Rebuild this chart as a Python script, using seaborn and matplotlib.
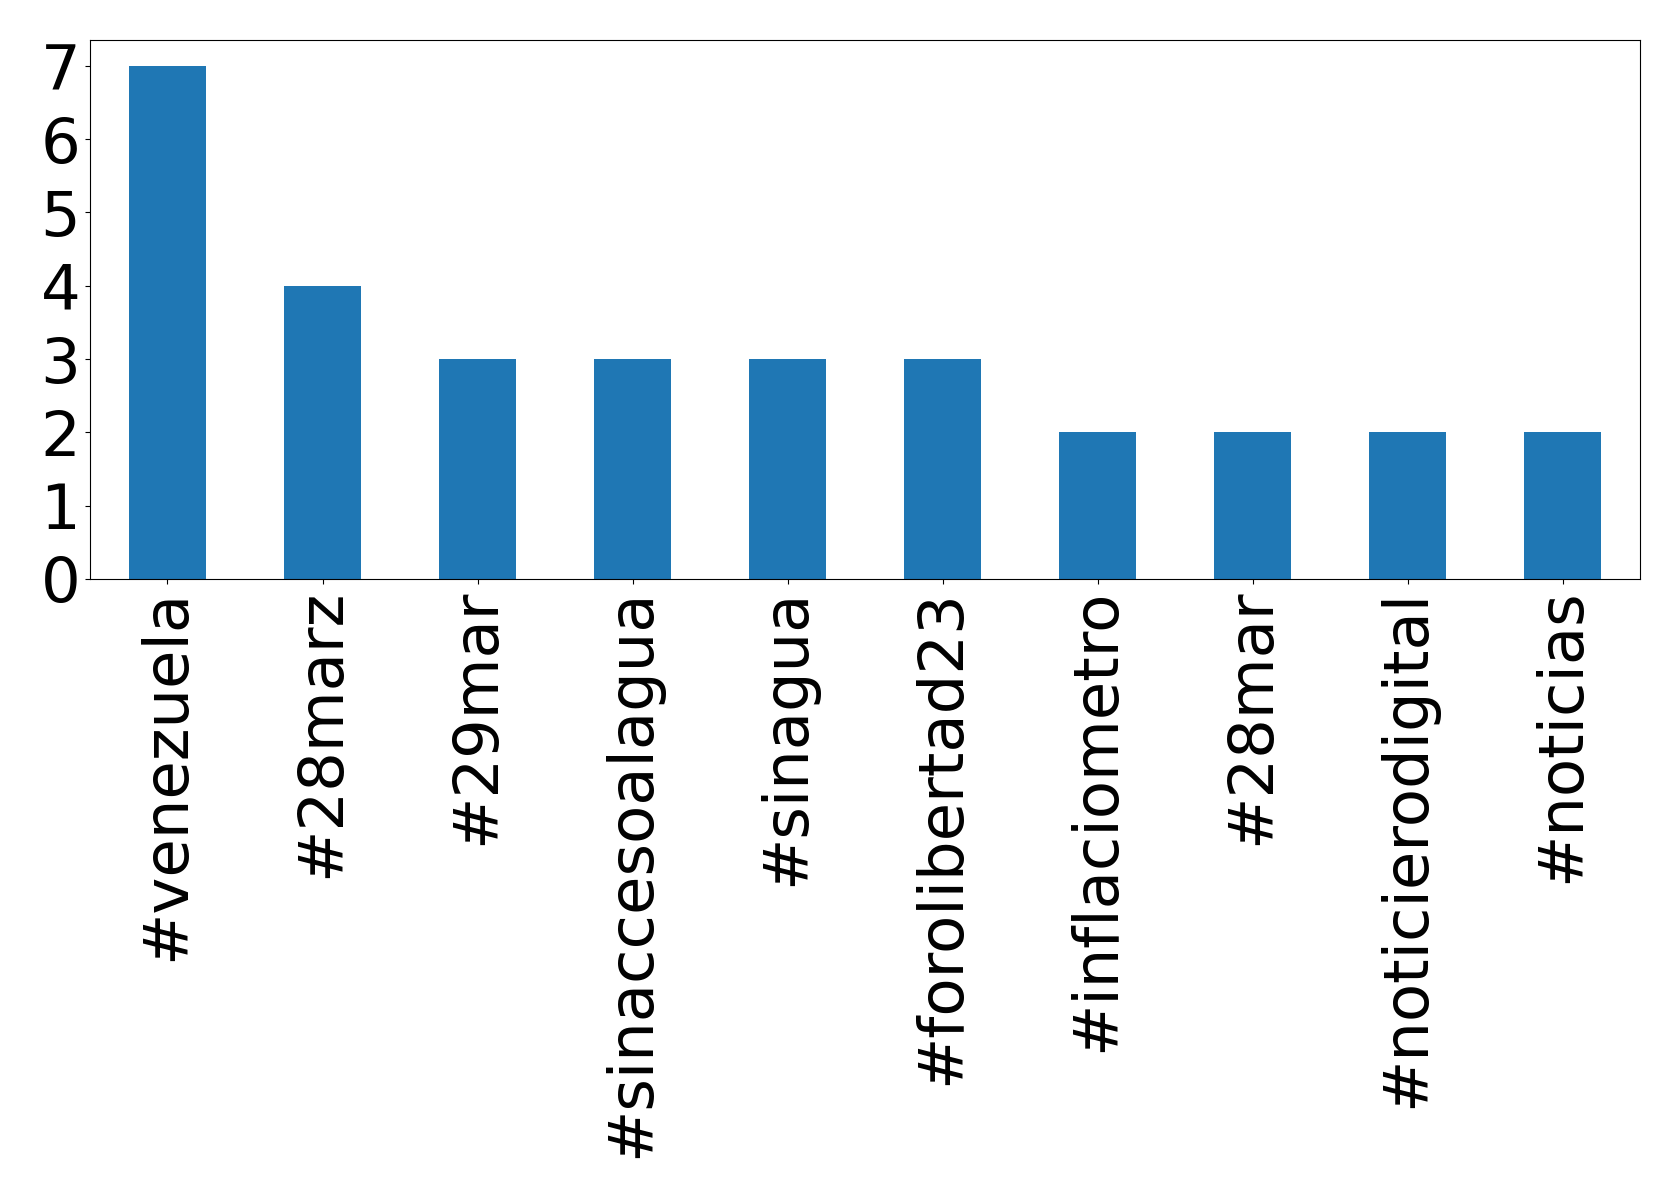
import pandas as pd
import seaborn as sns
import matplotlib.pyplot as plt

# hashtag counts
hashtags = ['#venezuela', '#28marz', '#29mar', '#sinaccesoalagua', '#sinagua',
            '#forolibertad23', '#inflaciometro', '#28mar', '#noticierodigital', '#noticias']
counts = [7, 4, 3, 3, 3, 3, 2, 2, 2, 2]

df = pd.DataFrame({'hashtag': hashtags, 'count': counts})

fig, ax = plt.subplots(figsize=(16.79, 11.98), dpi=100)
fig.subplots_adjust(left=0.0536, right=0.9768, top=0.9666, bottom=0.5167)

sns.barplot(data=df, x='hashtag', y='count', color='#1f77b4', saturation=1,
            width=0.5, ax=ax)

ax.set_xlim(-0.5, len(hashtags) - 0.5)
ax.set_xlabel('')
ax.set_ylabel('')
ax.set_yticks(range(0, 8))
ax.tick_params(axis='both', labelsize=45)
plt.setp(ax.get_xticklabels(), rotation=90)

plt.savefig('out.png', dpi=100, facecolor='white')
